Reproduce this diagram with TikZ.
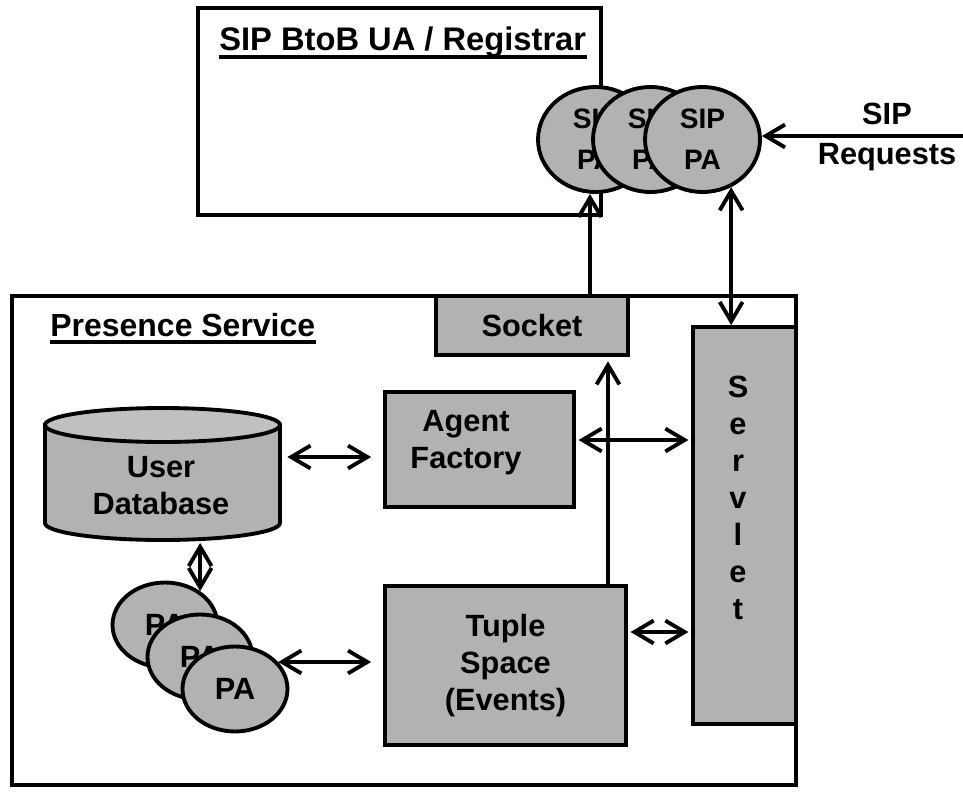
\documentclass[tikz,border=0pt]{standalone}
\usepackage{fontspec}
\setmainfont{Liberation Sans}
\usetikzlibrary{shapes.geometric,arrows.meta}
\definecolor{boxgray}{RGB}{178,178,178}
\definecolor{dbtop}{RGB}{192,192,192}
\tikzset{
  lw/.style={line width=2.2pt},
  frame/.style={draw, lw, fill=white, inner sep=0pt},
  box/.style={draw, lw, fill=boxgray, inner sep=0pt, font=\fontsize{17.5}{21}\selectfont\bfseries, align=center},
  oval/.style={ellipse, draw, lw, fill=boxgray, inner sep=0pt, align=center},
  sipoval/.style={oval, minimum width=2.3cm, minimum height=2.1cm, font=\fontsize{16}{23.5}\selectfont\bfseries},
  paoval/.style={oval, minimum width=2.1cm, minimum height=1.7cm, font=\fontsize{17.5}{21}\selectfont\bfseries},
  lbl/.style={inner sep=0pt, align=center, font=\fontsize{17.5}{21}\selectfont\bfseries},
  ttl/.style={inner sep=0pt, font=\fontsize{18.6}{22}\selectfont\bfseries},
  conn/.style={lw}
}
\begin{document}
\begin{tikzpicture}[x=0.02cm, y=-0.02cm, >={Straight Barb[length=11pt,width=13pt]}]
\useasboundingbox (0,0) rectangle (963,791);

% ---- upper frame: SIP BtoB UA / Registrar
\node[frame, minimum width=8.06cm, minimum height=4.14cm] (ua) at (399.5,111.5) {};
\node[ttl, anchor=base west] (uatitle) at (219,51) {SIP BtoB UA / Registrar};
\draw[line width=2.3pt] ([yshift=-3.6pt]uatitle.base west) -- ([yshift=-3.6pt]uatitle.base east);

% ---- SIP PA ovals
\node[sipoval] (sip1) at (595.5,139.5) {SIP\\PA};
\node[sipoval] (sip2) at (650.5,139.5) {SIP\\PA};
\node[sipoval] (sip3) at (702.5,139.5) {SIP\\PA};

% ---- SIP requests
\coordinate (req) at (963,136);
\node[lbl, font=\fontsize{17.5}{23}\selectfont\bfseries] (reqtxt) at (887,137) {SIP\\Requests};

% ---- Presence service frame
\node[frame, minimum width=15.68cm, minimum height=9.78cm] (ps) at (404,540.5) {};
\node[ttl, font=\fontsize{18.2}{22}\selectfont\bfseries, anchor=base west] (pstitle) at (50,336) {Presence Service};
\draw[line width=2.3pt] ([yshift=-3.6pt]pstitle.base west) -- ([yshift=-3.6pt]pstitle.base east);

% ---- boxes
\node[box, minimum width=3.84cm, minimum height=1.18cm] (socket) at (532,325.5) {Socket};
\node[box, minimum width=2.06cm, minimum height=7.94cm] (servlet) at (744.5,525.5) {};
\node[lbl] (servlettxt) at (738,498) {S\\e\\r\\v\\l\\e\\t};
\node[box, minimum width=3.78cm, minimum height=2.3cm] (af) at (479.5,449.5) {};
\node[lbl] (aftxt) at (466,443) {Agent\\Factory};
\node[box, minimum width=4.82cm, minimum height=3.18cm] (ts) at (505.5,665.5) {Tuple\\Space\\(Events)};

% ---- user database cylinder
\path[draw, lw, fill=boxgray] (45,425) -- (45,523)
  arc[start angle=180, end angle=360, x radius=2.35cm, y radius=0.34cm] -- (280,425) -- cycle;
\draw[lw, fill=dbtop] (162.5,425) ellipse [x radius=2.35cm, y radius=0.34cm];
\node[minimum width=4.7cm, minimum height=2.64cm, inner sep=0pt] (db) at (162.5,474) {};
\node[lbl] (dbtxt) at (161,486) {User\\Database};

% ---- PA ovals
\node[paoval] (pa1) at (165,625) {PA};
\node[paoval] (pa2) at (200,657) {PA};
\node[paoval] (pa3) at (235,689) {PA};

% ---- connectors
\coordinate (xs) at (590,0);
\coordinate (xt) at (608,0);
\coordinate (yaf) at (0,440);
\coordinate (yts) at (0,632);
\coordinate (ydb) at (0,457);

\draw[conn, ->] (xs |- socket.north) -- (xs |- sip1.south);
\draw[conn, <->] (sip3.-59) -- (sip3.-59 |- servlet.north);
\draw[conn, ->] (req) -- (req -| sip3.east);
\draw[conn, ->] (xt |- ts.north) -- ([yshift=-2.5pt]xt |- socket.south);
\draw[conn, <->, shorten <=1.5pt, shorten >=1.5pt] (af.east |- yaf) -- (servlet.west |- yaf);
\draw[conn, <->, shorten <=1.5pt, shorten >=1.5pt] (ts.east |- yts) -- (servlet.west |- yts);
\draw[conn, <->, shorten <=4pt, shorten >=6.8pt] (db.east |- ydb) -- (af.west |- ydb);
\draw[conn, <->, shorten <=1.5pt] (pa1.44 |- db.south) -- (pa1.44);
\draw[conn, <->, shorten >=6.8pt] (pa3.32) -- (pa3.32 -| ts.west);
\end{tikzpicture}
\end{document}
